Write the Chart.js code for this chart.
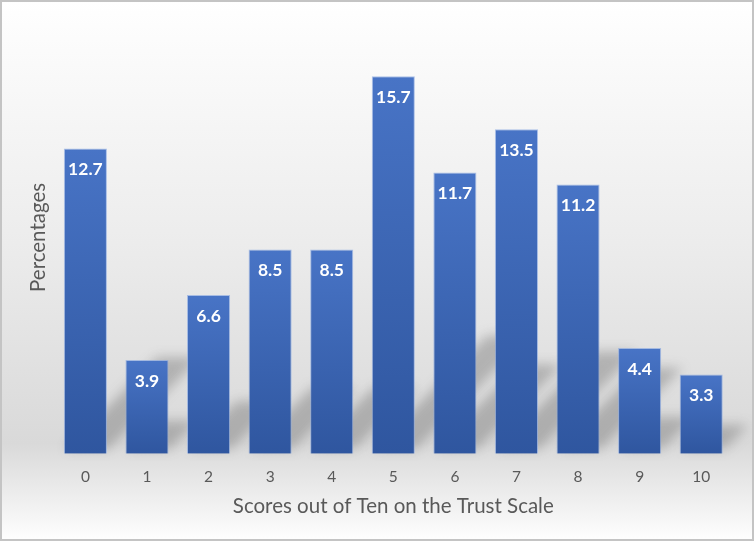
<!DOCTYPE html>
<html>
<head>
<meta charset="utf-8">
<script src="https://cdn.jsdelivr.net/npm/chart.js@4"></script>
<style>
    html, body { margin: 0; padding: 0; }
    body {
        width: 754px; height: 541px; overflow: hidden;
        background: linear-gradient(to bottom, #ffffff 0%, #ececec 45%, #d9d9d9 82%, #f4f4f4 95%, #ffffff 100%);
    }
    #wrap { position: relative; width: 754px; height: 541px; }
</style>
</head>
<body>
<div id="wrap"><canvas id="chart" width="754" height="541"></canvas></div>
<script>
'use strict';

// ── Data ──────────────────────────────────────────────────────────────────────
const scores   = ['0', '1', '2', '3', '4', '5', '6', '7', '8', '9', '10'];
const percents = [12.7, 3.9, 6.6, 8.5, 8.5, 15.7, 11.7, 13.5, 11.2, 4.4, 3.3];

const xTitle = 'Scores out of Ten on the Trust Scale';
const yTitle = 'Percentages';

const FONT = "Lato, 'Open Sans', sans-serif";
const GREY = '#595959';

// per-bar vertical gradient (lighter top, darker bottom)
function barFill(c) {
    const chart = c.chart;
    const ys = chart.scales && chart.scales.y;
    if (!ys || c.dataIndex === undefined) return '#3f67b3';
    const top = ys.getPixelForValue(percents[c.dataIndex]);
    const bot = ys.getPixelForValue(0);
    if (!isFinite(top) || !isFinite(bot) || top === bot) return '#3f67b3';
    const g = chart.ctx.createLinearGradient(0, top, 0, bot);
    g.addColorStop(0, '#4874c6');
    g.addColorStop(1, '#2f569f');
    return g;
}

// ── Plugins ───────────────────────────────────────────────────────────────────
// soft perspective shadow behind each bar (leans up and to the right)
const barShadows = {
    id: 'barShadows',
    beforeDatasetsDraw(chart) {
        const ctx = chart.ctx;
        const bars = chart.getDatasetMeta(0).data;
        ctx.save();
        ctx.filter = 'blur(6px)';
        ctx.fillStyle = 'rgba(70,70,70,0.30)';
        bars.forEach(b => {
            const h  = b.base - b.y;
            const H  = h * 0.3;
            const s  = 1.0;
            const lift = 5;
            const x0 = b.x - b.width / 2 + 2;
            const x1 = b.x + b.width / 2 + 2;
            ctx.beginPath();
            ctx.moveTo(x0, b.base - lift);
            ctx.lineTo(x1, b.base - lift);
            ctx.lineTo(x1 + s * H, b.base - lift - H);
            ctx.lineTo(x0 + s * H, b.base - lift - H);
            ctx.closePath();
            ctx.fill();
        });
        ctx.restore();
    }
};

// white value labels inside the top of each bar
const valueLabels = {
    id: 'valueLabels',
    afterDatasetsDraw(chart) {
        const ctx = chart.ctx;
        ctx.save();
        ctx.font = `bold 17.5px ${FONT}`;
        ctx.fillStyle = '#ffffff';
        ctx.textAlign = 'center';
        ctx.textBaseline = 'middle';
        chart.getDatasetMeta(0).data.forEach((b, i) => {
            ctx.fillText(percents[i].toFixed(1), b.x, b.y + 21);
        });
        ctx.restore();
    }
};

// thin frame round the picture
const frame = {
    id: 'frame',
    afterDraw(chart) {
        const ctx = chart.ctx;
        ctx.save();
        ctx.strokeStyle = '#c4c4c4';
        ctx.lineWidth = 2;
        ctx.strokeRect(1, 1, chart.width - 2, chart.height - 2);
        ctx.restore();
    }
};

// ── Chart ─────────────────────────────────────────────────────────────────────
new Chart(document.getElementById('chart'), {
    type: 'bar',
    data: {
        labels: scores,
        datasets: [{
            data: percents,
            backgroundColor: barFill,
            borderColor: 'rgba(140,170,225,0.7)',
            borderWidth: 1,
            categoryPercentage: 1,
            barPercentage: 0.70
        }]
    },
    options: {
        responsive: false,
        animation: false,
        layout: { padding: { top: 21, right: 22, bottom: 22, left: 26 } },
        plugins: {
            legend: { display: false },
            tooltip: { enabled: false }
        },
        scales: {
            x: {
                grid: { display: false },
                border: { display: false },
                ticks: { color: GREY, font: { family: FONT, size: 15.5 }, padding: 6 },
                title: {
                    display: true, text: xTitle, color: GREY,
                    font: { family: FONT, size: 20.5 }, padding: { top: 2, bottom: 0 }
                }
            },
            y: {
                min: 0, max: 18,
                grid: { display: false },
                border: { display: false },
                ticks: { display: false },
                title: {
                    display: true, text: yTitle, color: GREY,
                    font: { family: FONT, size: 20.5 }, padding: { top: 0, bottom: -4 }
                }
            }
        }
    },
    plugins: [barShadows, valueLabels, frame]
});
</script>
</body>
</html>
